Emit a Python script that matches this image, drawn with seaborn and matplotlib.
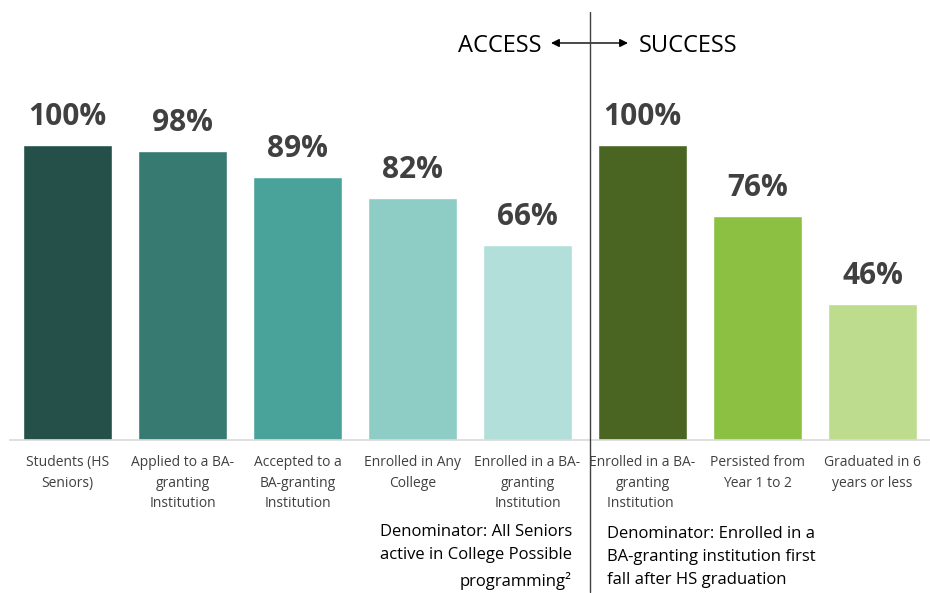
import matplotlib
matplotlib.use("Agg")
import matplotlib.pyplot as plt
import seaborn as sns
import pandas as pd

categories = ["Students (HS\nSeniors)", "Applied to a BA-\ngranting\nInstitution",
              "Accepted to a\nBA-granting\nInstitution", "Enrolled in Any\nCollege",
              "Enrolled in a BA-\ngranting\nInstitution", "Enrolled in a BA-\ngranting\nInstitution ",
              "Persisted from\nYear 1 to 2", "Graduated in 6\nyears or less"]
values = [100, 98, 89, 82, 66, 100, 76, 46]
colors = ["#245049", "#367a72", "#4aa39a", "#8ecdc6", "#b3dfda", "#4a6422", "#8bc043", "#bddc8e"]

sns.set_theme(style="white")
plt.rcParams['font.family'] = ['Open Sans', 'DejaVu Sans']

W, H = 930, 593
fig = plt.figure(figsize=(W/100, H/100), dpi=100)
ax = fig.add_axes([10/W, 1-440/H, 920/W, 440/H])

df = pd.DataFrame({"cat": categories, "val": values})
sns.barplot(data=df, x="cat", y="val", hue="cat", palette=colors, legend=False,
            width=0.77, ax=ax, saturation=1)

ax.set_ylim(0, 440/295*100)
ax.set_xlim(-0.5, 7.5)
ax.set_xlabel("")
ax.set_ylabel("")
ax.set_yticks([])
for s in ["top", "right", "left"]:
    ax.spines[s].set_visible(False)
ax.spines["bottom"].set_color("#d9d9d9")
ax.spines["bottom"].set_linewidth(1.2)
ax.tick_params(axis="x", length=0, pad=11, labelsize=10, labelcolor="#404040")
ax.set_xticks(range(len(categories)))
ax.set_xticklabels(categories, linespacing=1.5)

for i, v in enumerate(values):
    ax.text(i, v + 9.5, f"{v}%", ha="center", va="center", fontsize=21.5,
            fontweight="bold", color="#404040")

# divider line
xd = 590/W
fig.add_artist(plt.Line2D([xd, xd], [1-12/H, 1-592/H], color="#404040", lw=1.0,
                          transform=fig.transFigure))
# ACCESS / SUCCESS
fig.text(541/W, 1-46/H, "ACCESS", ha="right", va="center", fontsize=17, color="black")
fig.text(639/W, 1-46/H, "SUCCESS", ha="left", va="center", fontsize=17, color="black")
ax.annotate("", xy=(551/W, 1-43/H), xytext=(628/W, 1-43/H),
            xycoords="figure fraction", textcoords="figure fraction",
            arrowprops=dict(arrowstyle="<|-|>", color="black", lw=1.0,
                            mutation_scale=12, shrinkA=0, shrinkB=0))

fig.text(572/W, 1-557/H, "Denominator: All Seniors\nactive in College Possible\nprogramming\u00b2",
         ha="right", va="center", fontsize=12, color="black", linespacing=1.6)
fig.text(607/W, 1-557/H, "Denominator: Enrolled in a\nBA-granting institution first\nfall after HS graduation",
         ha="left", va="center", fontsize=12, color="black", linespacing=1.6)

fig.savefig("out.png", dpi=100)
